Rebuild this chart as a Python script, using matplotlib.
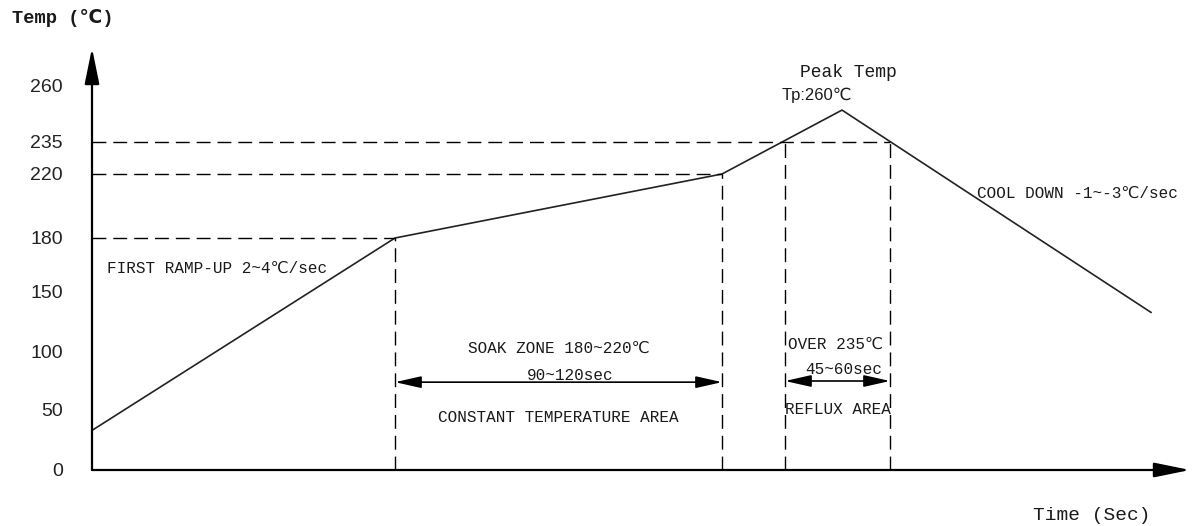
import numpy as np
import matplotlib
matplotlib.use("Agg")
import matplotlib.pyplot as plt

# reflow profile (time in sec, temperature in C)
time_s = [0, 101, 210, 250, 353]
temp_c = [33, 180, 220, 249, 133]
soak_window = [101, 210]
reflux_window = [231, 266]
reflux_temp = 235
ytick_values = [0, 50, 100, 150, 180, 220, 235, 260]

# the temperature axis of the drawing is schematic, not linear
scale_temps = [0, 50, 100, 150, 180, 220, 235, 260, 300]
scale_pos = [0, 60, 118, 178, 232, 296, 328, 385, 477]


def fwd(t):
    return np.interp(t, scale_temps, scale_pos)


def inv(p):
    return np.interp(p, scale_pos, scale_temps)


MONO = ['Liberation Mono', 'DejaVu Sans Mono', 'DejaVu Sans']
INK = '#1a1a1a'

fig = plt.figure(figsize=(11.92, 5.26), dpi=100)
ax = fig.add_axes([92 / 1192, 56 / 526, 1098 / 1192, 422 / 526])
ax.set_yscale('function', functions=(fwd, inv))
ax.set_xlim(0, 366)
ax.set_ylim(0, inv(422))

for s in ax.spines.values():
    s.set_visible(False)
ax.set_xticks([])
ax.set_yticks(ytick_values)
ax.set_yticklabels([str(v) for v in ytick_values], fontsize=14,
                   family='Liberation Sans', color='#222222')
ax.tick_params(axis='y', length=0, pad=21)

# axes with arrow heads
axis_arrow = dict(arrowstyle='-|>,head_length=2.2,head_width=0.45',
                  color='black', lw=1.6, mutation_scale=10,
                  shrinkA=0, shrinkB=0)
ax.annotate('', xy=(1, 0), xytext=(0, 0), xycoords='axes fraction',
            arrowprops=axis_arrow, annotation_clip=False)
ax.annotate('', xy=(0, 1), xytext=(0, 0), xycoords='axes fraction',
            arrowprops=axis_arrow, annotation_clip=False)

# profile curve
ax.plot(time_s, temp_c, color='#222222', lw=1.2, clip_on=False)

# dashed guide lines
dash = dict(color='black', lw=1.0, dashes=(10, 5), clip_on=False)
ax.plot([0, soak_window[0]], [temp_c[1], temp_c[1]], **dash)
ax.plot([0, soak_window[1]], [temp_c[2], temp_c[2]], **dash)
ax.plot([0, reflux_window[1]], [reflux_temp, reflux_temp], **dash)
ax.plot([soak_window[0], soak_window[0]], [0, temp_c[1]], **dash)
ax.plot([soak_window[1], soak_window[1]], [0, temp_c[2]], **dash)
for t in reflux_window:
    ax.plot([t, t], [0, reflux_temp], **dash)

# span arrows
span_arrow = dict(arrowstyle='<|-|>,head_length=0.8,head_width=0.18',
                  color='black', lw=1.2, mutation_scale=20,
                  shrinkA=0, shrinkB=0)
ax.annotate('', xy=(soak_window[1], 74), xytext=(soak_window[0], 74),
            arrowprops=span_arrow)
ax.annotate('', xy=(reflux_window[1], 75), xytext=(reflux_window[0], 75),
            arrowprops=span_arrow)

txt = dict(family=MONO, fontsize=11.5, color=INK, va='center')
soak_mid = sum(soak_window) / 2
reflux_mid = sum(reflux_window) / 2
ax.text(5, 163, 'FIRST RAMP-UP 2~4℃/sec', ha='left', **txt)
ax.text(soak_mid, 103, 'SOAK ZONE 180~220℃', ha='center', **txt)
ax.text(soak_mid + 4, 80, '90~120sec', ha='center', **txt)
ax.text(soak_mid, 44, 'CONSTANT TEMPERATURE AREA', ha='center', **txt)
ax.text(reflux_window[0] + 1, 106, 'OVER 235℃', ha='left', **txt)
ax.text(reflux_mid + 2, 84.5, '45~60sec', ha='center', **txt)
ax.text(reflux_mid, 50, 'REFLUX AREA', ha='center', **txt)
ax.text(295, 208, 'COOL DOWN -1~-3℃/sec', ha='left', **txt)
ax.text(252, 265.6, 'Peak Temp', ha='center', family=MONO, fontsize=13,
        color=INK, va='center')
ax.text(241.5, 255.6, 'Tp:260℃', ha='center', family=['Liberation Sans', 'DejaVu Sans'],
        fontsize=12, color=INK, va='center')

fig.text(12 / 1192, 1 - 18 / 526, 'Temp (℃)', family=MONO, fontsize=13.5,
         color=INK, va='center', ha='left', weight='bold')
fig.text(1033 / 1192, 1 - 516 / 526, 'Time (Sec)', family=MONO, fontsize=14,
         color=INK, va='center', ha='left')

fig.savefig('out.png', dpi=100)
